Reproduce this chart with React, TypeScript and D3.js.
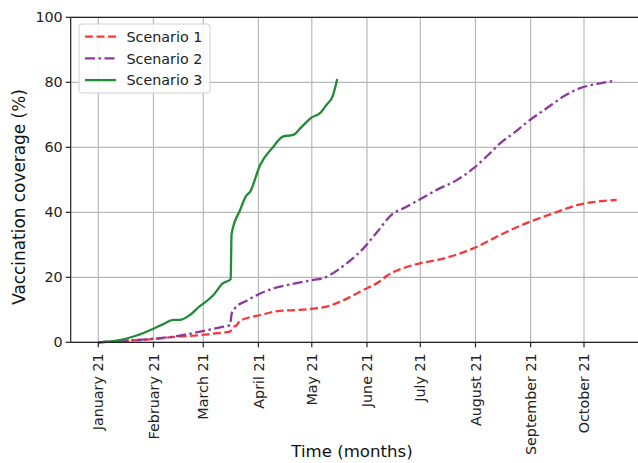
import React from 'react';
import * as d3 from 'd3';

// days since 1 Jan 2021
const s1Days = [0, 14, 29, 44, 57, 66.6, 74, 75.7, 77.8, 79.7, 91.3, 102, 111.5, 122.8, 128.4, 136, 149, 158.3, 162, 171.4, 180.8, 192, 210.8, 227.7, 242.6, 255.8, 269, 284, 291.4];
const s1Values = [0, 0.4, 0.9, 1.7, 2.2, 2.8, 3.3, 4.6, 5.3, 6.6, 8.4, 9.7, 9.9, 10.5, 11, 12.5, 16.1, 18.8, 20.4, 22.8, 24.3, 25.5, 28.9, 33.5, 37.1, 39.7, 42.2, 43.5, 43.8];

const s2Days = [0, 12.2, 29, 44, 57.2, 70.3, 74, 75, 76.8, 83.4, 91.3, 98.4, 106, 111.5, 121, 126.5, 130.2, 139.6, 149, 156.5, 165.8, 171.4, 181.8, 190.2, 201.5, 210.8, 220.2, 225.8, 233.3, 242.6, 252, 261.4, 270.8, 280.2, 290.4];
const s2Values = [0, 0.4, 1.0, 1.9, 3.3, 4.8, 5.3, 8.9, 10.5, 12.8, 15.1, 16.6, 17.6, 18.2, 19.2, 19.7, 20.7, 24.3, 28.9, 33.8, 39.7, 41.2, 44.3, 46.9, 49.9, 53.5, 58.2, 61.2, 64.3, 68.4, 72, 75.6, 78.2, 79.5, 80.5];

const s3Days = [0, 10.3, 21.6, 30.6, 36.5, 42.2, 45.9, 51.5, 57.2, 60.5, 64.6, 69.9, 74.4, 74.9, 79.7, 83, 85.3, 90.9, 98.4, 103.7, 109.6, 114.3, 120, 124.6, 128.2, 131.9, 134.3];
const s3Values = [0, 0.5, 2.1, 4.1, 5.6, 6.9, 6.9, 8.4, 11.2, 12.5, 14.5, 18.1, 19.4, 33.3, 40.7, 45, 46.3, 54.5, 60.2, 63.3, 63.8, 66.3, 69.2, 70.5, 73, 76, 81];

const seriesNames = ['Scenario 1', 'Scenario 2', 'Scenario 3'];
const monthLabels = ['January 21', 'February 21', 'March 21', 'April 21', 'May 21', 'June 21', 'July 21', 'August 21', 'September 21', 'October 21'];
const yTicks = [0, 20, 40, 60, 80, 100];

const start = new Date(2021, 0, 1);
const toDate = (d: number) => new Date(start.getTime() + d * 86400000);

const W = 638, H = 463;
const font = 'DejaVu Sans, sans-serif';

export default function App() {
  const x = d3.scaleTime()
    .domain([new Date(2021, 0, 1), new Date(2021, 9, 1)])
    .range([98.3, 584]);
  const y = d3.scaleLinear().domain([0, 100]).range([342.3, 17.3]);

  const left = 70.7, right = 642, top = y(100), bottom = y(0);

  const styles = [
    { color: '#f23a3a', dash: '8,3.5' },
    { color: '#8b3a9b', dash: '10,3.5,2.5,3.5' },
    { color: '#228b3a', dash: null },
  ];
  const series = [
    s1Days.map((d, i) => ({ date: toDate(d), v: s1Values[i] })),
    s2Days.map((d, i) => ({ date: toDate(d), v: s2Values[i] })),
    s3Days.map((d, i) => ({ date: toDate(d), v: s3Values[i] })),
  ];
  const line = d3.line<{ date: Date; v: number }>()
    .x(d => x(d.date))
    .y(d => y(d.v))
    .curve(d3.curveMonotoneX);

  const monthTicks = monthLabels.map((_, i) => new Date(2021, i, 1));

  return (
    <svg width={W} height={H} style={{ position: 'absolute', left: 0, top: 0, background: '#fff' }} fontFamily={font}>
      {/* grid */}
      {monthTicks.map((t, i) => (
        <line key={'gx' + i} x1={x(t)} x2={x(t)} y1={top} y2={bottom} stroke="#b8b8b8" strokeWidth={1.2} />
      ))}
      {yTicks.map(t => (
        <line key={'gy' + t} x1={left} x2={right} y1={y(t)} y2={y(t)} stroke="#b8b8b8" strokeWidth={1.2} />
      ))}

      {/* series */}
      {series.map((s, i) => (
        <path key={'s' + i} d={line(s) || ''} fill="none" stroke={styles[i].color} strokeWidth={2.3}
          strokeDasharray={styles[i].dash || undefined} strokeLinejoin="round" />
      ))}

      {/* spines */}
      <line x1={left} x2={left} y1={top} y2={bottom} stroke="#222" strokeWidth={1.2} />
      <line x1={left} x2={right} y1={bottom} y2={bottom} stroke="#222" strokeWidth={1.2} />
      <line x1={left} x2={right} y1={top} y2={top} stroke="#222" strokeWidth={1.2} />

      {/* y ticks */}
      {yTicks.map(t => (
        <g key={'yt' + t}>
          <line x1={left - 5} x2={left} y1={y(t)} y2={y(t)} stroke="#222" strokeWidth={1.2} />
          <text x={left - 8} y={y(t)} dy="0.36em" textAnchor="end" fontSize={14.3} fill="#222">{t}</text>
        </g>
      ))}

      {/* x ticks */}
      {monthTicks.map((t, i) => (
        <g key={'xt' + i}>
          <line x1={x(t)} x2={x(t)} y1={bottom} y2={bottom + 5} stroke="#222" strokeWidth={1.2} />
          <text transform={`translate(${x(t)},${bottom + 11}) rotate(-90)`} dy="0.36em" textAnchor="end"
            fontSize={14.3} fill="#222">{monthLabels[i]}</text>
        </g>
      ))}

      {/* axis labels */}
      <text x={352} y={457} textAnchor="middle" fontSize={16.6} fill="#111">Time (months)</text>
      <text transform={`translate(25,197) rotate(-90)`} textAnchor="middle" fontSize={16.9} fill="#111">
        Vaccination coverage (%)
      </text>

      {/* legend */}
      <rect x={79} y={24} width={131} height={69} rx={3} fill="#fff" fillOpacity={0.85} stroke="#d0d0d0" strokeWidth={1} />
      {seriesNames.map((n, i) => {
        const ly = 36.7 + i * 21.7;
        return (
          <g key={'lg' + i}>
            <line x1={85} x2={116} y1={ly} y2={ly} stroke={styles[i].color} strokeWidth={2.3}
              strokeDasharray={styles[i].dash || undefined} />
            <text x={126.5} y={ly} dy="0.36em" fontSize={14.3} fill="#222">{n}</text>
          </g>
        );
      })}
    </svg>
  );
}
